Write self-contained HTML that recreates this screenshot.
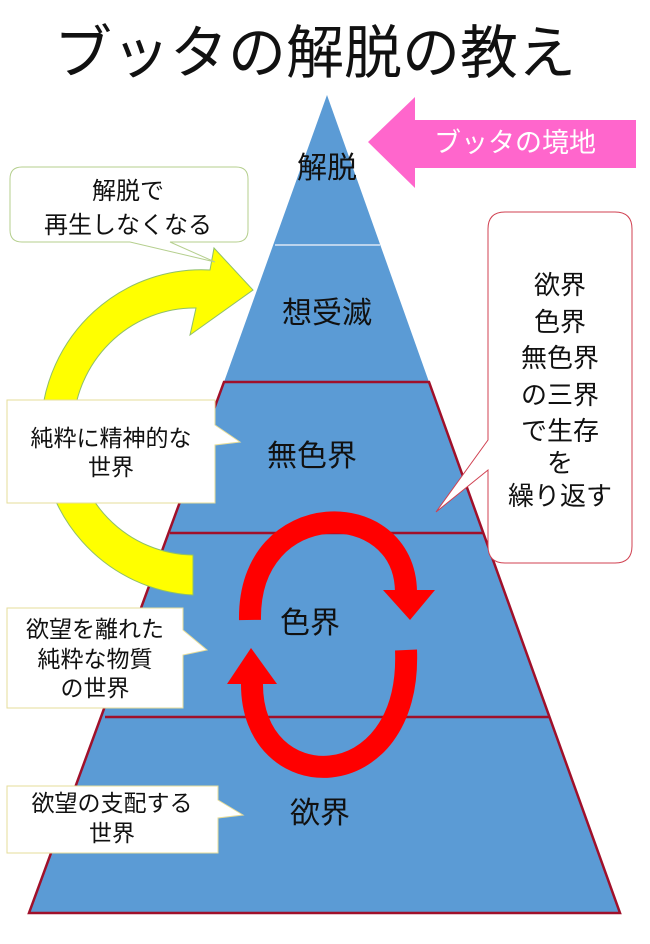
<!DOCTYPE html>
<html><head><meta charset="utf-8"><style>
html,body{margin:0;padding:0;background:#fff;}
svg text{font-family:"Liberation Sans","Noto Sans CJK JP",sans-serif;}
</style></head><body>
<svg width="650" height="939" viewBox="0 0 650 939" xmlns="http://www.w3.org/2000/svg">
<rect width="650" height="939" fill="#fff"/>
<text x="315" y="73" font-size="58" text-anchor="middle" fill="#111">ブッタの解脱の教え</text>
<!-- pyramid -->
<polygon points="327,95 224,382 429,382" fill="#5b9bd5"/>
<line x1="275" y1="245" x2="380" y2="245" stroke="#dce8f5" stroke-width="1.5"/>
<polygon points="224,382 429,382 620,913 29,913" fill="#5b9bd5" stroke="#a0102a" stroke-width="2.5"/>
<line x1="170" y1="533" x2="484" y2="533" stroke="#a0102a" stroke-width="2.5"/>
<line x1="105" y1="717" x2="549" y2="717" stroke="#a0102a" stroke-width="2.5"/>
<!-- yellow arc arrow -->
<path d="M193,595 A160,162 0 0 1 210,270 L214,248 L253,290 L190,335 L196,308 A120,122 0 0 0 193,555 Z" fill="#ffff00" stroke="#8fbf6a" stroke-width="1"/>
<!-- red arrows -->
<path d="M250,620 C248,495 405,495 406,592" fill="none" stroke="#ff0000" stroke-width="22"/>
<polygon points="383,590 435,590 410,620" fill="#ff0000"/>
<path d="M406,650 C412,800 250,800 252,682" fill="none" stroke="#ff0000" stroke-width="22"/>
<polygon points="227,684 277,684 251,648" fill="#ff0000"/>
<!-- pink arrow -->
<polygon points="368,142 415,97 415,120 636,120 636,168 415,168 415,188" fill="#ff66cc"/>
<text x="515" y="152" font-size="27" fill="#fff" text-anchor="middle">ブッタの境地</text>
<!-- pyramid labels -->
<g font-size="30" fill="#111" text-anchor="middle">
<text x="327" y="178">解脱</text>
<text x="327" y="323">想受滅</text>
<text x="312" y="466">無色界</text>
<text x="310" y="633">色界</text>
<text x="320" y="823">欲界</text>
</g>
<!-- callouts -->
<path d="M22,167 H236 Q248,167 248,179 V230 Q248,242 236,242 H170 L215,262 L130,242 H22 Q10,242 10,230 V179 Q10,167 22,167 Z" fill="#fff" stroke="#b5cf8e" stroke-width="1"/>
<g font-size="24" fill="#111" text-anchor="middle"><text x="128" y="199">解脱で</text><text x="128" y="233">再生しなくなる</text></g>
<path d="M505,212 H615 Q632,212 632,229 V546 Q632,563 615,563 H505 Q488,563 488,546 V470 L436,512 L488,440 V229 Q488,212 505,212 Z" fill="#fff" stroke="#d04050" stroke-width="1"/>
<g font-size="26" fill="#111" text-anchor="middle">
<text x="560" y="294">欲界</text><text x="560" y="331">色界</text><text x="560" y="367">無色界</text><text x="560" y="404">の三界</text><text x="560" y="440">で生存</text><text x="560" y="472">を</text><text x="560" y="505">繰り返す</text></g>
<path d="M7,400 H215 V425 L240,442 L215,445 V503 H7 Z" fill="#fff" stroke="#e6dc9a" stroke-width="1"/>
<g font-size="23" fill="#111" text-anchor="middle"><text x="111" y="446">純粋に精神的な</text><text x="111" y="475">世界</text></g>
<path d="M7,608 H183 V630 L207,650 L183,655 V708 H7 Z" fill="#fff" stroke="#e6dc9a" stroke-width="1"/>
<g font-size="23" fill="#111" text-anchor="middle"><text x="95" y="637">欲望を離れた</text><text x="95" y="667">純粋な物質</text><text x="95" y="696">の世界</text></g>
<path d="M7,786 H218 V800 L243,815 L218,818 V853 H7 Z" fill="#fff" stroke="#e6dc9a" stroke-width="1"/>
<g font-size="23" fill="#111" text-anchor="middle"><text x="112" y="811">欲望の支配する</text><text x="112" y="841">世界</text></g>
</svg>
</body></html>
